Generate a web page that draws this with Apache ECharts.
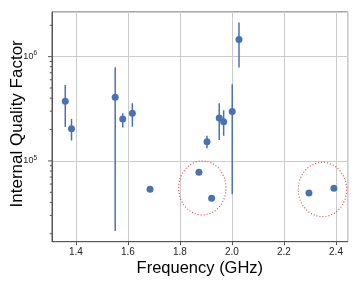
<!DOCTYPE html>
<html><head><meta charset="utf-8">
<script src="https://cdn.jsdelivr.net/npm/echarts@6/dist/echarts.min.js"></script>
<style>html,body{margin:0;padding:0;background:#fff}#c{width:360px;height:288px}</style>
</head><body><div id="c"></div>
<script>
const freq    = [1.359, 1.383, 1.551, 1.580, 1.617, 1.685, 1.873, 1.904, 1.922, 1.951, 1.968, 2.001, 2.027, 2.296, 2.392];
const qi      = [3.73e5, 2.04e5, 4.08e5, 2.53e5, 2.86e5, 5.36e4, 7.8e4, 1.53e5, 4.39e4, 2.58e5, 2.38e5, 2.97e5, 1.46e6, 4.93e4, 5.47e4];
const qiLow   = [2.12e5, 1.57e5, 2.13e4, 2.09e5, 2.13e5, 5.25e4, 7.7e4, 1.32e5, 4.3e4, 1.59e5, 1.74e5, 4.8e4, 7.85e5, 4.85e4, 5.4e4];
const qiHigh  = [5.36e5, 2.53e5, 7.9e5, 2.86e5, 3.57e5, 5.5e4, 7.95e4, 1.74e5, 4.5e4, 3.57e5, 3.06e5, 5.43e5, 2.12e6, 5.0e4, 5.55e4];
// ellipse bounds: [fMin, fMax, qMin, qMax]
const ellipses = [[1.795, 1.977, 3.03e4, 1.0e5], [2.255, 2.441, 2.92e4, 9.7e4]];
const majorTicks = [1e5, 1e6];
const minorTicks = [2e4,3e4,4e4,5e4,6e4,7e4,8e4,9e4,2e5,3e5,4e5,5e5,6e5,7e5,8e5,9e5,2e6];
const xMin = 1.308, xMax = 2.445, yMin = 1.68e4, yMax = 2.68e6;
const blue = '#4a72b0';
const font = 'Liberation Sans, Arial, sans-serif';

const chart = echarts.init(document.getElementById('c'), null, {renderer:'canvas'});
const ticks = majorTicks.map(v => [v, 4]).concat(minorTicks.map(v => [v, 2.2]));
chart.setOption({
  backgroundColor: '#fff',
  animation: false,
  grid: {left: 52, right: 12.3, top: 12, bottom: 46.3, show: true, borderColor: '#555', borderWidth: 1,
         containLabel: false, outerBoundsMode: 'none'},
  xAxis: {
    type: 'value', min: xMin, max: xMax,
    name: 'Frequency (GHz)', nameLocation: 'middle', nameGap: 18, nameMoveOverlap: false,
    nameTextStyle: {fontSize: 16.5, color: '#000', fontFamily: font},
    axisLine: {show: true, lineStyle: {color: '#555', width: 1}},
    axisTick: {show: true, inside: false, length: 3.5, lineStyle: {color: '#555'}},
    axisLabel: {fontSize: 10, color: '#222', fontFamily: font, margin: 6, showMinLabel: false, showMaxLabel: false,
      formatter: v => v.toFixed(1)},
    splitLine: {show: true, lineStyle: {color: '#cccccc', width: 1}}
  },
  yAxis: {
    type: 'log', logBase: 10, min: yMin, max: yMax,
    name: 'Internal Quality Factor', nameLocation: 'middle', nameGap: 26, nameRotate: 90, nameMoveOverlap: false,
    nameTextStyle: {fontSize: 17, color: '#000', fontFamily: font, padding: [0, 0, 0, 6]},
    axisLine: {show: true, lineStyle: {color: '#555', width: 1}},
    axisTick: {show: false},
    axisLabel: {color: '#222', fontFamily: font, margin: 15, showMinLabel: false, showMaxLabel: false,
      formatter: v => {
        const e = Math.log10(v);
        if (Math.abs(e - Math.round(e)) > 1e-6) return '';
        return '{b|10}{s|' + Math.round(e) + '}';
      },
      rich: {b: {fontSize: 9, fontFamily: font, color: '#222'},
             s: {fontSize: 6.5, fontFamily: font, color: '#222', padding: [0, 0, 6, 0]}}
    },
    splitLine: {show: true, lineStyle: {color: '#cccccc', width: 1}}
  },
  series: [
    {
      type: 'custom', clip: false, silent: true,
      data: ticks,
      renderItem: (params, api) => {
        const p = api.coord([xMin, api.value(0)]);
        const len = api.value(1);
        return {type: 'line', shape: {x1: p[0] - len, y1: p[1], x2: p[0], y2: p[1]},
          style: {stroke: '#555', lineWidth: 1}};
      },
      encode: {x: -1, y: 0}
    },
    {
      type: 'custom', silent: true,
      data: freq.map((f, i) => [f, qiLow[i], qiHigh[i]]),
      encode: {x: 0, y: [1, 2]},
      renderItem: (params, api) => {
        const a = api.coord([api.value(0), api.value(1)]);
        const b = api.coord([api.value(0), api.value(2)]);
        return {type: 'line', shape: {x1: a[0], y1: a[1], x2: b[0], y2: b[1]},
          style: {stroke: blue, lineWidth: 1.5}};
      },
      z: 3
    },
    {
      type: 'scatter', symbol: 'circle', symbolSize: 7,
      data: freq.map((f, i) => [f, qi[i]]),
      itemStyle: {color: blue, opacity: 1},
      z: 4
    },
    {
      type: 'custom', silent: true,
      data: ellipses,
      encode: {x: [0, 1], y: [2, 3]},
      renderItem: (params, api) => {
        const p1 = api.coord([api.value(0), api.value(3)]);
        const p2 = api.coord([api.value(1), api.value(2)]);
        return {type: 'ellipse',
          shape: {cx: (p1[0] + p2[0]) / 2, cy: (p1[1] + p2[1]) / 2,
                  rx: Math.abs(p2[0] - p1[0]) / 2, ry: Math.abs(p2[1] - p1[1]) / 2},
          style: {fill: 'none', stroke: '#d9434a', lineWidth: 1.1, lineDash: [1, 2]}};
      },
      z: 5
    }
  ]
});
</script></body></html>
